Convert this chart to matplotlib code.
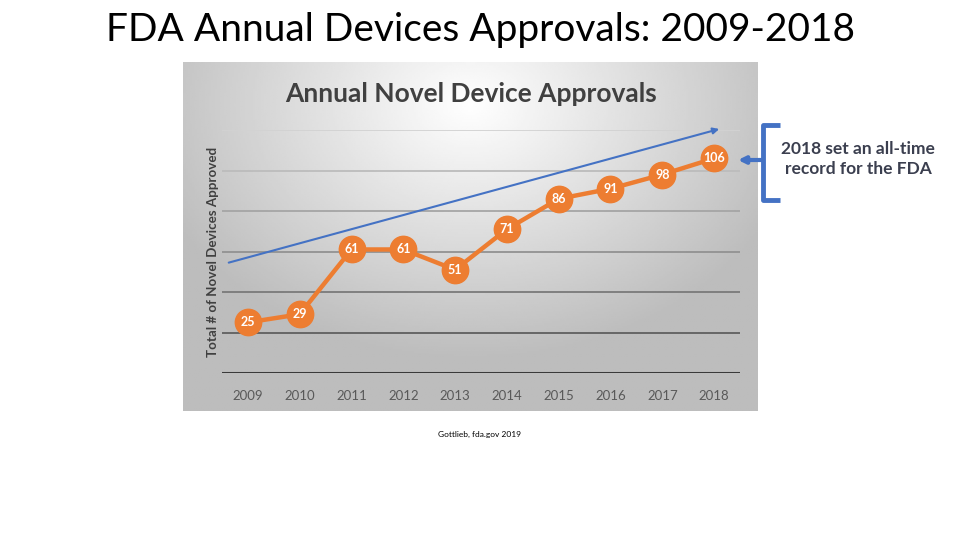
import matplotlib
matplotlib.use("Agg")
import matplotlib.pyplot as plt
import numpy as np

years = ["2009", "2010", "2011", "2012", "2013",
         "2014", "2015", "2016", "2017", "2018"]
approvals = [25, 29, 61, 61, 51, 71, 86, 91, 98, 106]
grid_levels = [20, 40, 60, 80, 100, 120]
grid_colors = ["#5f5f5f", "#7a7a7a", "#929292", "#a5a5a5", "#bcbcbc", "#d2d2d2"]
trend_start = (-0.37, 54.5)
trend_end = (9.1, 120.5)

slide_title = "FDA Annual Devices Approvals: 2009-2018"
chart_title = "Annual Novel Device Approvals"
y_label = "Total # of Novel Devices Approved"
note = "2018 set an all-time\nrecord for the FDA"
source = "Gottlieb, fda.gov 2019"

plt.rcParams['font.family'] = ['Lato', 'DejaVu Sans']

W, H = 960, 540
fig = plt.figure(figsize=(W / 100, H / 100), dpi=100)


def fx(px):
    return px / W


def fy(py):
    return 1 - py / H


# gray radial gradient behind the embedded chart
bg = fig.add_axes([fx(183), fy(411), fx(575), 349 / H])
gx, gy = np.meshgrid(np.linspace(0, 1, 300), np.linspace(0, 1, 200))
r = np.sqrt(((gx - 0.5) / 0.72) ** 2 + ((gy - 0.12) / 0.9) ** 2)
shade = np.clip(1.0 - 0.32 * r, 0.74, 1.0)
bg.imshow(shade, cmap="gray", vmin=0, vmax=1, aspect="auto",
          extent=(0, 1, 1, 0))
bg.set_xlim(0, 1)
bg.set_ylim(1, 0)
bg.axis("off")

ax = fig.add_axes([fx(222), fy(373), fx(518), 243 / H])
ax.patch.set_alpha(0)
x = np.arange(len(years))
for lvl, col in zip(grid_levels, grid_colors):
    ax.axhline(lvl, color=col, lw=1.3, zorder=1)
ax.axhline(0, color="#3a3a3a", lw=2.2, zorder=1)

ax.plot(x, approvals, color="#ED7D31", lw=3.2, marker="o", ms=19,
        mfc="#ED7D31", mec="#ED7D31", zorder=3, clip_on=False)
for xi, v in zip(x, approvals):
    ax.text(xi, v, str(v), color="white", fontsize=9, fontweight="bold",
            ha="center", va="center", zorder=4)

ax.annotate("", xy=trend_end, xytext=trend_start,
            arrowprops=dict(arrowstyle="-|>", color="#4472C4", lw=1.5,
                            mutation_scale=9, shrinkA=0, shrinkB=0),
            annotation_clip=False, zorder=2)

ax.set_xlim(-0.5, len(years) - 0.5)
ax.set_ylim(0, 120)
ax.set_xticks(x)
ax.set_xticklabels(years, color="#595959", fontsize=9.5)
ax.tick_params(axis="x", length=0, pad=12)
ax.set_yticks([])
for s in ax.spines.values():
    s.set_visible(False)

fig.text(fx(213), fy(252), y_label, rotation=90, ha="center", va="center",
         fontsize=9.6, fontweight="bold", color="#404040")
fig.text(fx(471), fy(94), chart_title, ha="center", va="center",
         fontsize=19, fontweight="bold", color="#404040")
fig.text(fx(480), fy(30), slide_title, ha="center", va="center",
         fontsize=28, color="black")
fig.text(fx(858), fy(159), note, ha="center", va="center",
         fontsize=12.5, fontweight="bold", color="#3b3f4f", linespacing=1.35)
fig.text(fx(480), fy(434), source, ha="center", va="center",
         fontsize=6, color="black")

# blue brace pointing at the 2018 value
ov = fig.add_axes([0, 0, 1, 1])
ov.set_xlim(0, W)
ov.set_ylim(H, 0)
ov.axis("off")
ov.plot([780, 763, 763, 780], [125, 125, 200, 200], color="#4472C4",
        lw=3.5, solid_capstyle="butt", solid_joinstyle="round")
ov.annotate("", xy=(738, 160), xytext=(763, 160),
            arrowprops=dict(arrowstyle="-|>", color="#4472C4", lw=3,
                            mutation_scale=10, shrinkA=0, shrinkB=0))

fig.savefig("out.png", dpi=100)
